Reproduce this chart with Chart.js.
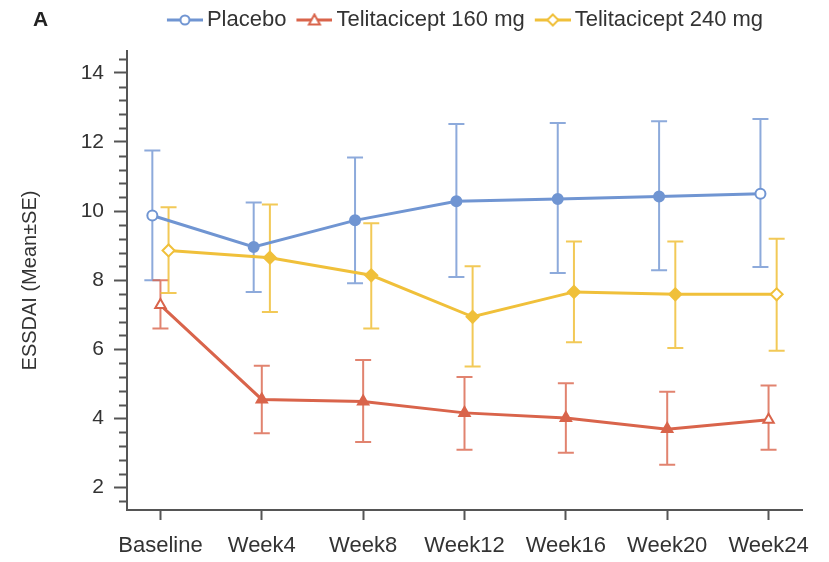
<!DOCTYPE html>
<html lang="en">
<head>
    <meta charset="UTF-8">
    <title>ESSDAI over time</title>
    <script src="https://cdn.jsdelivr.net/npm/chart.js"></script>
    <style>
        body {
            margin: 0;
            background: #fff;
            font-family: "Liberation Sans", Arial, sans-serif;
        }

        .wrap {
            position: relative;
            width: 829px;
            height: 562px;
        }

        .panel {
            position: absolute;
            left: 33px;
            top: 7px;
            font-size: 21px;
            font-weight: bold;
            color: #222;
        }
    </style>
</head>
<body>
    <div class="wrap">
        <canvas id="myChart" width="829" height="562"></canvas>
        <div class="panel">A</div>
    </div>

    <script>
        const categories = ['Baseline', 'Week4', 'Week8', 'Week12', 'Week16', 'Week20', 'Week24'];
        const yTicks = [2, 4, 6, 8, 10, 12, 14];

        const placeboMean = [9.87, 8.96, 9.73, 10.28, 10.35, 10.42, 10.50];
        const placeboLow = [8.00, 7.66, 7.91, 8.09, 8.21, 8.29, 8.38];
        const placeboHigh = [11.75, 10.25, 11.55, 12.52, 12.55, 12.60, 12.66];

        const t160Mean = [7.28, 4.55, 4.49, 4.16, 4.01, 3.69, 3.96];
        const t160Low = [6.60, 3.57, 3.32, 3.09, 3.01, 2.66, 3.09];
        const t160High = [8.00, 5.52, 5.69, 5.20, 5.02, 4.77, 4.95];

        const t240Mean = [8.86, 8.65, 8.14, 6.94, 7.66, 7.59, 7.59];
        const t240Low = [7.63, 7.08, 6.60, 5.50, 6.20, 6.04, 5.96];
        const t240High = [10.11, 10.19, 9.65, 8.40, 9.12, 9.12, 9.20];

        const axisColor = '#555';
        const textColor = '#333';
        const fontFamily = '"Liberation Sans", Arial, sans-serif';

        // small legend glyph: line with marker in the middle (drawn in the right part of the canvas)
        function legendIcon(color, style) {
            var c = document.createElement('canvas');
            c.width = 44;
            c.height = 14;
            var g = c.getContext('2d');
            g.translate(8, 0);
            g.strokeStyle = color;
            g.lineWidth = 3;
            g.beginPath();
            g.moveTo(0, 7);
            g.lineTo(36, 7);
            g.stroke();
            g.lineWidth = 2;
            g.fillStyle = '#fff';
            g.beginPath();
            if (style === 'circle') {
                g.arc(18, 7, 4.5, 0, Math.PI * 2);
            } else if (style === 'triangle') {
                g.moveTo(18, 1.5); g.lineTo(23.5, 11.5); g.lineTo(12.5, 11.5); g.closePath();
            } else {
                g.moveTo(18, 1.5); g.lineTo(23.5, 7); g.lineTo(18, 12.5); g.lineTo(12.5, 7); g.closePath();
            }
            g.fill();
            g.stroke();
            return c;
        }

        function points(means, shift) {
            return means.map(function (v, i) { return { x: i + shift, y: v }; });
        }

        function fills(color, n) {
            var a = [];
            for (var i = 0; i < n; i++) a.push(i === 0 || i === n - 1 ? '#fff' : color);
            return a;
        }

        const series = [
            { label: 'Placebo', mean: placeboMean, low: placeboLow, high: placeboHigh, color: '#7095d2', bar: 'rgba(112,149,210,0.8)', shift: -0.08, style: 'circle', r: 5 },
            { label: 'Telitacicept 160 mg', mean: t160Mean, low: t160Low, high: t160High, color: '#d9644b', bar: 'rgba(217,100,75,0.8)', shift: 0, style: 'triangle', r: 6 },
            { label: 'Telitacicept 240 mg', mean: t240Mean, low: t240Low, high: t240High, color: '#f0c03a', bar: 'rgba(240,192,58,0.85)', shift: 0.08, style: 'rectRot', r: 6 }
        ];

        const datasets = series.map(function (s) {
            return {
                label: s.label,
                data: points(s.mean, s.shift),
                borderColor: s.color,
                borderWidth: 3,
                pointStyle: s.style,
                pointRadius: s.r,
                pointBorderWidth: 2,
                pointBorderColor: s.color,
                pointBackgroundColor: fills(s.color, s.mean.length),
                tension: 0,
                fill: false
            };
        });

        // leave more room under the legend
        const legendGap = {
            id: 'legendGap',
            beforeInit: function (chart) {
                var fit = chart.legend.fit;
                chart.legend.fit = function () {
                    fit.bind(chart.legend)();
                    this.height += 10;
                };
            }
        };

        // error bars and minor y ticks
        const extras = {
            id: 'extras',
            beforeDatasetsDraw: function (chart) {
                var ctx = chart.ctx, xs = chart.scales.x, ys = chart.scales.y;
                ctx.save();
                series.forEach(function (s) {
                    ctx.strokeStyle = s.bar;
                    ctx.lineWidth = 2;
                    for (var i = 0; i < s.mean.length; i++) {
                        var x = xs.getPixelForValue(i + s.shift);
                        var y1 = ys.getPixelForValue(s.low[i]);
                        var y2 = ys.getPixelForValue(s.high[i]);
                        ctx.beginPath();
                        ctx.moveTo(x, y1); ctx.lineTo(x, y2);
                        ctx.moveTo(x - 8, y1); ctx.lineTo(x + 8, y1);
                        ctx.moveTo(x - 8, y2); ctx.lineTo(x + 8, y2);
                        ctx.stroke();
                    }
                });
                ctx.restore();
            },
            afterDraw: function (chart) {
                var ctx = chart.ctx, ys = chart.scales.y;
                var left = chart.chartArea.left;
                ctx.save();
                ctx.strokeStyle = axisColor;
                ctx.lineWidth = 2;
                for (var k = 4; k <= 36; k++) {
                    if (k % 5 === 0) continue;
                    var y = Math.round(ys.getPixelForValue(k * 0.4)) + 0.5;
                    ctx.beginPath();
                    ctx.moveTo(left - 8, y);
                    ctx.lineTo(left, y);
                    ctx.stroke();
                }
                ctx.restore();
            }
        };

        var ctx = document.getElementById('myChart').getContext('2d');
        var myChart = new Chart(ctx, {
            type: 'line',
            data: { datasets: datasets },
            plugins: [legendGap, extras],
            options: {
                responsive: false,
                animation: false,
                layout: { padding: { left: 14, right: 27, top: 0, bottom: 2 } },
                plugins: {
                    legend: {
                        position: 'top',
                        fullSize: false,
                        labels: {
                            usePointStyle: true,
                            pointStyleWidth: 30,
                            color: textColor,
                            font: { family: fontFamily, size: 22 },
                            padding: 9,
                            generateLabels: function () {
                                return series.map(function (s, i) {
                                    return {
                                        text: s.label,
                                        pointStyle: legendIcon(s.color, s.style),
                                        fontColor: textColor,
                                        datasetIndex: i,
                                        lineWidth: 0,
                                        strokeStyle: 'transparent',
                                        fillStyle: 'transparent'
                                    };
                                });
                            }
                        }
                    },
                    tooltip: { enabled: false }
                },
                scales: {
                    x: {
                        type: 'linear',
                        min: -0.33,
                        max: 6.33,
                        afterBuildTicks: function (scale) {
                            scale.ticks = categories.map(function (c, i) { return { value: i }; });
                        },
                        afterFit: function (scale) { scale.height = 50; },
                        ticks: {
                            color: textColor,
                            font: { family: fontFamily, size: 22 },
                            padding: 13,
                            maxRotation: 0,
                            callback: function (v) { return categories[v]; }
                        },
                        grid: {
                            drawOnChartArea: false,
                            drawTicks: true,
                            tickLength: 10,
                            tickWidth: 2,
                            tickColor: axisColor
                        },
                        border: { display: true, color: axisColor, width: 2 }
                    },
                    y: {
                        min: 1.35,
                        max: 14.63,
                        afterBuildTicks: function (scale) {
                            scale.ticks = yTicks.map(function (v) { return { value: v }; });
                        },
                        afterFit: function (scale) { scale.width = 113; },
                        title: {
                            display: true,
                            text: 'ESSDAI (Mean±SE)',
                            color: textColor,
                            font: { family: fontFamily, size: 20 },
                            padding: { top: 4, bottom: 0 }
                        },
                        ticks: {
                            color: textColor,
                            font: { family: fontFamily, size: 21 },
                            padding: 10
                        },
                        grid: {
                            drawOnChartArea: false,
                            drawTicks: true,
                            tickLength: 13,
                            tickWidth: 2,
                            tickColor: axisColor
                        },
                        border: { display: true, color: axisColor, width: 2 }
                    }
                }
            }
        });
    </script>
</body>
</html>
